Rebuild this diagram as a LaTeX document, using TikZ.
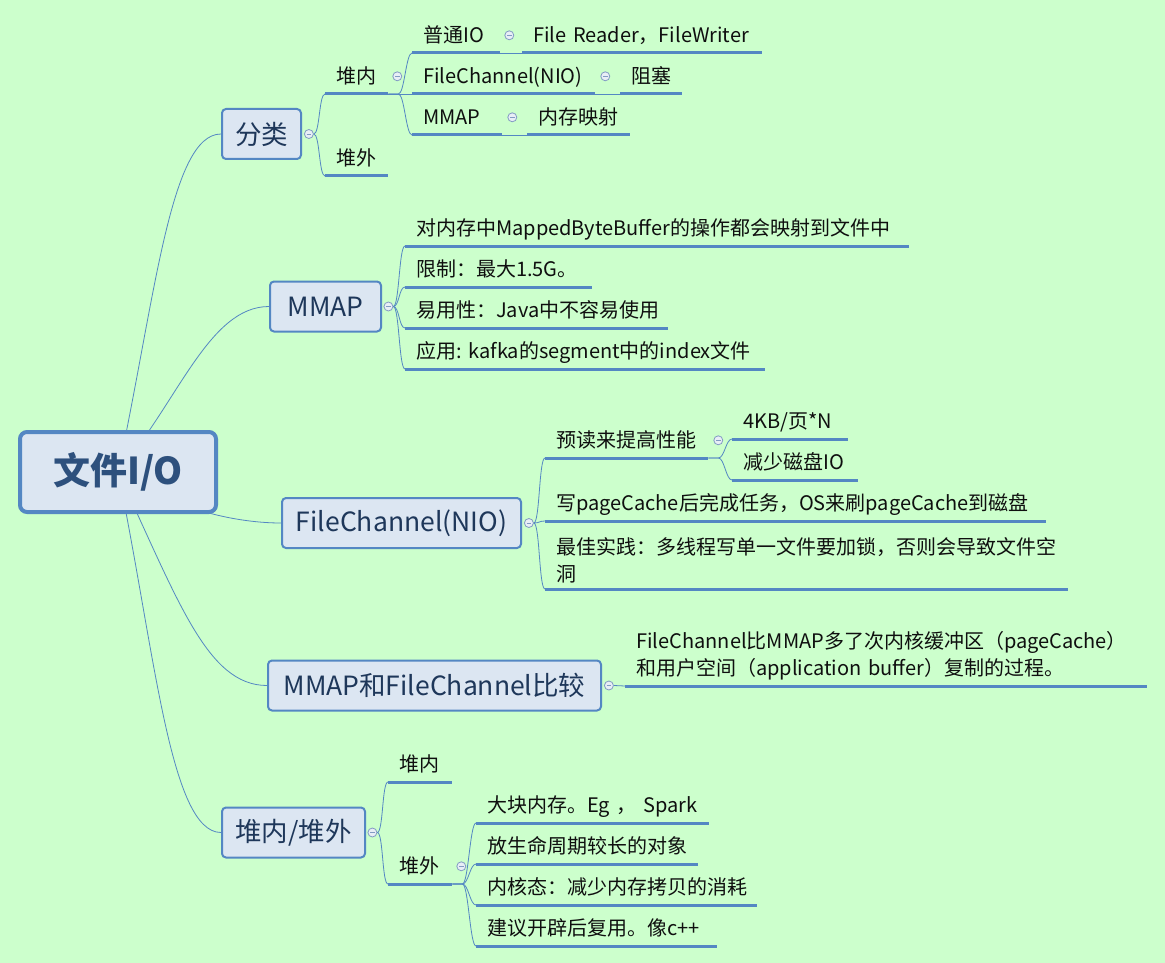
\documentclass[tikz,border=0pt]{standalone}
\usepackage{fontspec}
\setmainfont{Noto Sans CJK SC}
\usetikzlibrary{positioning}
\pgfdeclarelayer{background}
\pgfsetlayers{background,main}
\definecolor{bgc}{RGB}{204,255,204}
\definecolor{linec}{RGB}{84,135,195}
\definecolor{boxc}{RGB}{220,230,242}
\definecolor{roott}{RGB}{45,80,125}
\definecolor{topict}{RGB}{30,55,90}
\definecolor{leaft}{RGB}{15,15,15}
\definecolor{foldc}{RGB}{130,155,195}
\definecolor{foldf}{RGB}{232,238,246}

\begin{document}
\begin{tikzpicture}[x=1pt, y=-1pt,
	rootbox/.style={draw=linec, line width=4pt, rounded corners=7pt, fill=boxc, text=roott, font=\fontsize{37}{40}\selectfont\bfseries, minimum width=196pt, minimum height=80pt},
	topic/.style={draw=linec, line width=2pt, rounded corners=4pt, fill=boxc, text=topict, font=\fontsize{26.5}{30}\selectfont, minimum height=50pt},
	leaf/.style={anchor=south west, text width=#1, align=left, inner xsep=11pt, inner ysep=6.5pt, text height=18pt, text depth=4pt, text=leaft, font=\fontsize{20}{27}\selectfont, append after command={(\tikzlastnode.south west) edge[uline] (\tikzlastnode.south east)}},
	twolines/.style={text height=, text depth=, inner ysep=6pt},
	uline/.style={draw=linec, line width=3pt},
	twig/.style={draw=linec, line width=0.8pt},
	fold/.style={circle, draw=foldc, fill=foldf, line width=0.8pt, minimum size=9pt, inner sep=0pt, path picture={\draw[foldc, line width=0.8pt] ([xshift=-2.2pt]path picture bounding box.center) -- ([xshift=2.2pt]path picture bounding box.center);}}]
	\useasboundingbox (0,0) rectangle (1165,963);
	% main topics
	\node[rootbox] (root) at (118,472) {文件I/O};
	\node[topic, minimum width=79pt] (fl) at (261.5,134) {分类};
	\node[topic, minimum width=111pt] (mm) at (325.5,306.5) {MMAP};
	\node[topic, minimum width=239pt] (fc) at (401.5,523) {FileChannel(NIO)};
	\node[topic, minimum width=333pt] (cmp) at (434.5,685.5) {MMAP和FileChannel比较};
	\node[topic, minimum width=143pt] (heap) at (293.5,832.5) {堆内/堆外};
	\node[fold, right=2pt of fl] (fl-f) {};
	\node[fold, right=1.5pt of mm] (mm-f) {};
	\node[fold, right=2pt of fc] (fc-f) {};
	\node[fold, right=2pt of cmp] (cmp-f) {};
	\node[fold, right=1.5pt of heap] (heap-f) {};
	% 分类
	\node[leaf=41pt] (fl-in) at (325,94) {堆内};
	\node[leaf=41pt] (fl-out) at (325,176) {堆外};
	\node[leaf=66pt] (io) at (412,53) {普通IO};
	\node[leaf=218pt] (io-rw) at (522,53) {File~Reader，FileWriter};
	\node[leaf=161pt] (nio) at (412,94) {FileChannel(NIO)};
	\node[leaf=40pt] (nio-blk) at (620,94) {阻塞};
	\node[leaf=68pt] (mp) at (412,135) {MMAP};
	\node[leaf=81pt] (mp-map) at (527,135) {内存映射};
	\node[fold, right=4pt of fl-in] (fl-in-f) {};
	\node[fold, right=4pt of io] (io-f) {};
	\node[fold, right=5pt of nio] (nio-f) {};
	\node[fold, right=5pt of mp] (mp-f) {};
	% MMAP
	\node[leaf=482pt] (mm-1) at (405,246) {对内存中MappedByteBuffer的操作都会映射到文件中};
	\node[leaf=165pt] (mm-2) at (405,287) {限制：最大1.5G。};
	\node[leaf=241pt] (mm-3) at (405,328) {易用性：Java中不容易使用};
	\node[leaf=338pt] (mm-4) at (405,369) {应用:~kafka的segment中的index文件};
	% FileChannel(NIO)
	\node[leaf=141pt] (fc-pre) at (545,458) {预读来提高性能};
	\node[leaf=94pt] (fc-4k) at (732,439) {4KB/页*N};
	\node[leaf=104pt] (fc-io) at (732,480) {减少磁盘IO};
	\node[leaf=479pt] (fc-wr) at (545,521) {写pageCache后完成任务，OS来刷pageCache到磁盘};
	\node[leaf=501pt, twolines] (fc-best) at (545,589) {最佳实践：多线程写单一文件要加锁，否则会导致文件空\\洞};
	\node[fold, right=5pt of fc-pre] (fc-pre-f) {};
	% 比较
	\node[leaf=500pt, twolines] (cmp-1) at (625,686) {FileChannel比MMAP多了次内核缓冲区（pageCache）\\和用户空间（application~buffer）复制的过程。};
	% 堆内/堆外
	\node[leaf=42pt] (heap-in) at (388,782) {堆内};
	\node[leaf=42pt] (heap-out) at (388,884) {堆外};
	\node[leaf=211pt] (heap-1) at (476,823) {大块内存。Eg~，~Spark};
	\node[leaf=200pt] (heap-2) at (476,864) {放生命周期较长的对象};
	\node[leaf=259pt] (heap-3) at (476,905) {内核态：减少内存拷贝的消耗};
	\node[leaf=219pt] (heap-4) at (476,946) {建议开辟后复用。像c++};
	\node[fold, right=4pt of heap-out] (heap-out-f) {};
	% curves from the centre
	\begin{pgfonlayer}{background}
		\fill[bgc] (0,0) rectangle (1165,963);
		\draw[twig] (root.center) .. controls +(37,-172) and +(-51,0) .. (fl.west);
		\draw[twig] (root.center) .. controls +(60,-70) and +(-60,0) .. (mm.west);
		\draw[twig] (root.center) .. controls +(60,40) and +(-40,0) .. (fc.west);
		\draw[twig] (root.center) .. controls +(60,128) and +(-60,0) .. (cmp.west);
		\draw[twig] (root.center) .. controls +(37,180) and +(-51,0) .. (heap.west);
	\end{pgfonlayer}
	% brackets
	\draw[twig] (fl-f.east) .. controls +(6,0) and +(-6,0) .. (fl-in.south west);
	\draw[twig] (fl-f.east) .. controls +(6,0) and +(-6,0) .. (fl-out.south west);
	\draw[twig] (fl-in.south east) -- ++(10,0) .. controls +(6,0) and +(-6,0) .. (io.south west);
	\draw[twig] (fl-in.south east) -- (nio.south west);
	\draw[twig] (fl-in.south east) -- ++(10,0) .. controls +(6,0) and +(-6,0) .. (mp.south west);
	\draw[twig] (io.south east) -- (io-rw.south west);
	\draw[twig] (nio.south east) -- (nio-blk.south west);
	\draw[twig] (mp.south east) -- (mp-map.south west);
	\draw[twig] (mm-f.east) .. controls +(6,0) and +(-6,0) .. (mm-1.south west);
	\draw[twig] (mm-f.east) .. controls +(6,0) and +(-6,0) .. (mm-2.south west);
	\draw[twig] (mm-f.east) .. controls +(6,0) and +(-6,0) .. (mm-3.south west);
	\draw[twig] (mm-f.east) .. controls +(6,0) and +(-6,0) .. (mm-4.south west);
	\draw[twig] (fc-f.east) .. controls +(6,0) and +(-6,0) .. (fc-pre.south west);
	\draw[twig] (fc-f.east) .. controls +(6,0) and +(-6,0) .. (fc-wr.south west);
	\draw[twig] (fc-f.east) .. controls +(6,0) and +(-6,0) .. (fc-best.south west);
	\draw[twig] (fc-pre.south east) -- ++(10,0) .. controls +(6,0) and +(-6,0) .. (fc-4k.south west);
	\draw[twig] (fc-pre.south east) -- ++(10,0) .. controls +(6,0) and +(-6,0) .. (fc-io.south west);
	\draw[twig] (cmp-f.east) -- (cmp-1.south west);
	\draw[twig] (heap-f.east) .. controls +(6,0) and +(-6,0) .. (heap-in.south west);
	\draw[twig] (heap-f.east) .. controls +(6,0) and +(-6,0) .. (heap-out.south west);
	\draw[twig] (heap-out.south east) -- ++(10,0) .. controls +(6,0) and +(-6,0) .. (heap-1.south west);
	\draw[twig] (heap-out.south east) -- ++(10,0) .. controls +(6,0) and +(-6,0) .. (heap-2.south west);
	\draw[twig] (heap-out.south east) -- ++(10,0) .. controls +(6,0) and +(-6,0) .. (heap-3.south west);
	\draw[twig] (heap-out.south east) -- ++(10,0) .. controls +(6,0) and +(-6,0) .. (heap-4.south west);
\end{tikzpicture}
\end{document}
